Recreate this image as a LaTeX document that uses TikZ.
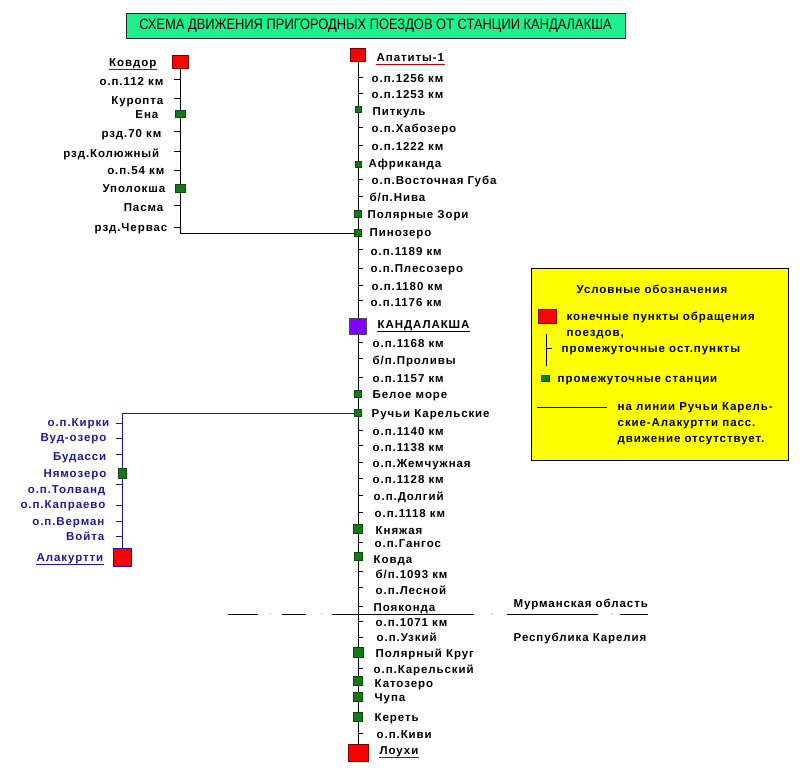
\documentclass[tikz,border=0pt]{standalone}
\usepackage{fontspec}
\setmainfont{Liberation Sans}
\newfontfamily\stnfont{Liberation Sans}[LetterSpace=8.0]
\usetikzlibrary{positioning}
\definecolor{EndRed}{HTML}{FF0000}
\definecolor{EndEdge}{HTML}{7A0000}
\definecolor{LineRed}{HTML}{C00000}
\definecolor{HaltGreen}{HTML}{157A15}
\definecolor{HaltEdge}{HTML}{0B4A0B}
\definecolor{HubViolet}{HTML}{8000FF}
\definecolor{TitleGreen}{HTML}{1DF08C}
\definecolor{NoteYellow}{HTML}{FFFF00}
\definecolor{Navy}{HTML}{1C1CA0}
\tikzset{
  track/.style={line width=0.9pt,draw=black},
  tickmark/.style={line width=0.7pt,draw=black},
  endbox/.style={rectangle,draw=EndEdge,fill=EndRed,line width=0.6pt,inner sep=0pt,
    minimum width=15pt,minimum height=13pt},
  haltbox/.style={rectangle,draw=HaltEdge,fill=HaltGreen,line width=0.5pt,inner sep=0pt,
    minimum width=7pt,minimum height=7pt},
  lbl/.style={inner sep=0.5pt,text height=8.5pt,text depth=2.5pt,yshift=-1pt,
    font=\stnfont\fontsize{11.5}{13}\selectfont\bfseries},
  lblright/.style={lbl,anchor=west},
  lblleft/.style={lbl,anchor=east},
  uline/.style={line width=0.8pt},
}

\begin{document}
\begin{tikzpicture}[x=1pt,y=-1pt]
    \useasboundingbox (0,0) rectangle (811,779);
    \fill[white] (0,0) rectangle (811,779);

    \node[draw=black!85,fill=TitleGreen,minimum width=499pt,minimum height=25pt,inner sep=0pt,
      font=\fontsize{15}{17}\selectfont] (title) at (375.5,25.5) {\scalebox{0.86}[1]{СХЕМА ДВИЖЕНИЯ ПРИГОРОДНЫХ ПОЕЗДОВ ОТ СТАНЦИИ КАНДАЛАКША}};

    \node[endbox] (apatity) at (358,55) {};
    \node[endbox,fill=HubViolet,draw=black!70,minimum width=17pt,minimum height=16pt] (kandalaksha) at (358,326) {};
    \node[endbox,minimum width=20pt,minimum height=17pt] (loukhi) at (358,753) {};
    \draw[track] (apatity.south) -- (kandalaksha.north);
    \draw[track] (kandalaksha.south) -- (loukhi.north);
    \node[haltbox] (pinozero) at (358,233) {};
    \node[haltbox] (ruchyi) at (358,413) {};

    \node[endbox,minimum width=16pt] (kovdor) at (180,62) {};
    \coordinate (kovdorbend) at (180,233);
    \draw[track,line width=0.7pt] (kovdor.south) -- (kovdorbend) -- (pinozero.west);

    \node[endbox,draw=Navy,minimum width=18pt,minimum height=18pt] (alakurtti) at (122,557) {};
    \coordinate (alakurttibend) at (122,413);
    \draw[track,draw=Navy,line width=0.7pt] (ruchyi.west) -- (alakurttibend) -- (alakurtti.north);

    \foreach \y in {77,93,127,145,179,196,249,268,285,300,342,358,377,430,445,462,478,495,512,542,571,587,606,621,637,668,733}
      \draw[tickmark] (358,\y) -- ++(5,0);
    \foreach \y/\s [count=\i] in {109/6,164/6,214/7,394/7,529/9,556/8,652/10,681/9,697/9,717/9}
      \node[haltbox,minimum size=\s*1pt] (halt\i) at (358,\y) {};
    \foreach \x/\y/\t [count=\i] in {371/78/{о.п.1256 км},371/94/{о.п.1253 км},372/111/Питкуль,371/128/{о.п.Хабозеро},
        371/146/{о.п.1222 км},368/163/Африканда,371/180/{о.п.Восточная Губа},369/197/{б/п.Нива},
        367/214/{Полярные Зори},369/232/Пинозеро,370/251/{о.п.1189 км},370/268/{о.п.Плесозеро},
        371/286/{о.п.1180 км},370/302/{о.п.1176 км},372/343/{о.п.1168 км},372/360/{б/п.Проливы},
        372/378/{о.п.1157 км},372/394/{Белое море},371/413/{Ручьи Карельские},372/431/{о.п.1140 км},
        372/447/{о.п.1138 км},372/463/{о.п.Жемчужная},372/479/{о.п.1128 км},373/496/{о.п.Долгий},
        374/513/{о.п.1118 км},375/530/Княжая,374/543/{о.п.Гангос},373/559/Ковда,375/574/{б/п.1093 км},
        375/590/{о.п.Лесной},373/607/Пояконда,375/622/{о.п.1071 км},376/637/{о.п.Узкий},
        375/653/{Полярный Круг},373/669/{о.п.Карельский},374/683/Катозеро,374/697/Чупа,374/717/Кереть,
        376/734/{о.п.Киви}}
      \node[lblright] (stop\i) at (\x,\y) {\t};

    \node[lblright] (apatitylbl) at (376,57) {Апатиты-1};
    \draw[uline,draw=LineRed] (apatitylbl.south west) -- (apatitylbl.south east);
    \node[lblright] (kandalakshalbl) at (377,324) {КАНДАЛАКША};
    \draw[uline] (kandalakshalbl.south west) -- (kandalakshalbl.south east);
    \node[lblright] (loukhilbl) at (379,750) {Лоухи};
    \draw[uline,draw=LineRed] (loukhilbl.south west) -- (loukhilbl.south east);

    \foreach \y in {79,98,131,151,170,205,227}
      \draw[tickmark] (180,\y) -- ++(-6,0);
    \node[haltbox,minimum width=10pt,minimum height=7pt] (ena) at (180,114) {};
    \node[haltbox,minimum width=10pt,minimum height=8pt] (upoloksha) at (180,188) {};
    \foreach \x/\y/\t [count=\i] in {164/81/{о.п.112 км},164/100/Куропта,159/114/Ена,162/133/{рзд.70 км},
        160/153/{рзд.Колюжный},165/170/{о.п.54 км},166/188/Уполокша,164/207/Пасма,168/227/{рзд.Червас}}
      \node[lblleft] (kstop\i) at (\x,\y) {\t};
    \node[lblleft] (kovdorlbl) at (157,62) {Ковдор};
    \draw[uline,draw=LineRed] (kovdorlbl.south west) -- (kovdorlbl.south east);

    \foreach \y in {423,438,454,484,505,521,536}
      \draw[tickmark,draw=Navy] (122,\y) -- ++(-6,0);
    \node[haltbox,minimum width=8pt,minimum height=10pt] (nyamozero) at (122,473) {};
    \foreach \x/\y/\t [count=\i] in {110/422/{о.п.Кирки},107/437/{Вуд-озеро},107/456/Будасси,107/473/Нямозеро,
        106/489/{о.п.Толванд},106/504/{о.п.Капраево},105/521/{о.п.Верман},105/536/Войта}
      \node[lblleft,text=Navy] (astop\i) at (\x,\y) {\t};
    \node[lblleft,text=Navy] (alakurttilbl) at (104,557) {Алакуртти};
    \draw[uline,draw=Navy] (alakurttilbl.south west) -- (alakurttilbl.south east);

    \foreach \a/\b in {228/258,282/306,332/474,507/598,620/648}
      \draw[line width=0.8pt] (\a,614) -- (\b,614);
    \foreach \d in {270,322,492,612}
      \fill[gray] (\d,614) circle (0.7pt);
    \node[lblright] (murmansk) at (513,603) {Мурманская область};
    \node[lblright] (karelia) at (513,637) {Республика Карелия};

    \node[draw=black,fill=NoteYellow,line width=0.8pt,minimum width=257pt,minimum height=192pt,
      inner sep=0pt,anchor=north west] (legend) at (531,268) {};
    \node[lbl] (legendtitle) at (652,289) {Условные обозначения};
    \node[endbox,minimum width=18pt,minimum height=14pt] (legendend) at (547,316) {};
    \node[lblright] (legendend1) at (566,316) {конечные пункты обращения};
    \node[lblright] (legendend2) at (566,332) {поездов,};
    \draw[tickmark] (546,334) -- (546,366);
    \draw[tickmark] (546,348) -- (552,348);
    \node[lblright] (legendstop) at (561,348) {промежуточные ост.пункты};
    \node[haltbox,minimum width=8pt,minimum height=6pt] (legendhalt) at (545,378) {};
    \node[lblright] (legendhalttxt) at (557,378) {промежуточные станции};
    \draw[tickmark] (537,407) -- (607,407);
    \node[lblright] (legendnote1) at (617,406) {на линии Ручьи Карель-};
    \node[lblright] (legendnote2) at (617,422) {ские-Алакуртти пасс.};
    \node[lblright] (legendnote3) at (617,438) {движение отсутствует.};
\end{tikzpicture}
\end{document}
